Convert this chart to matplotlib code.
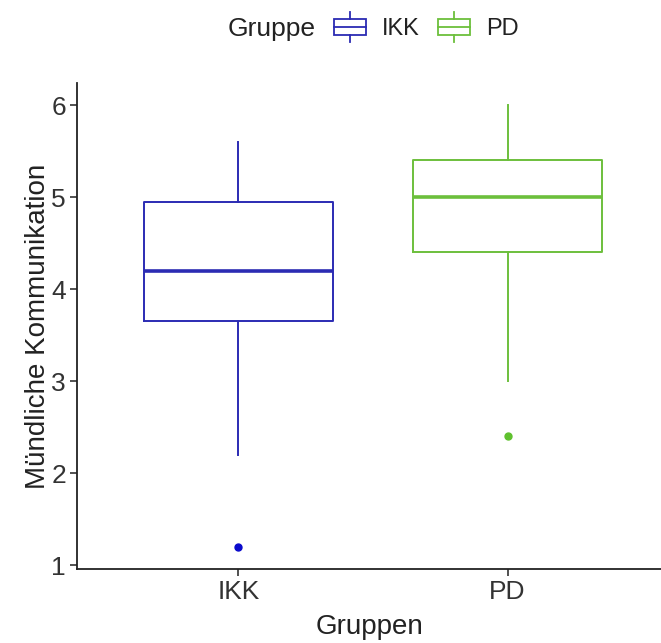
import numpy as np
import matplotlib
matplotlib.use("Agg")
import matplotlib.pyplot as plt
from matplotlib.legend_handler import HandlerBase
from matplotlib.patches import Rectangle
from matplotlib.lines import Line2D
from matplotlib.offsetbox import HPacker

plt.rcParams['font.family'] = ['Liberation Sans', 'DejaVu Sans']

groups = ["IKK", "PD"]
whislo = [2.2, 3.0]
q1 = [3.65, 4.4]
med = [4.2, 5.0]
q3 = [4.95, 5.4]
whishi = [5.6, 6.0]
outliers = [[1.2], [2.4]]
colors = ["#2b2bb3", "#6cbf3c"]
flier_colors = ["#0a0acc", "#5fc12e"]

stats = []
for i, g in enumerate(groups):
    stats.append(dict(label=g, whislo=whislo[i], q1=q1[i], med=med[i],
                      q3=q3[i], whishi=whishi[i], fliers=outliers[i]))

fig = plt.figure(figsize=(6.61, 6.43), dpi=100)
ax = fig.add_axes([0.1165, 0.1151, 0.8835, 0.7558])

for i, s in enumerate(stats):
    c = colors[i]
    ax.bxp([s], positions=[i + 1], widths=0.7, showcaps=False,
           boxprops=dict(color=c, linewidth=1.4),
           whiskerprops=dict(color=c, linewidth=1.4),
           medianprops=dict(color=c, linewidth=2.6),
           flierprops=dict(marker='o', markerfacecolor=flier_colors[i],
                           markeredgecolor=flier_colors[i], markersize=5))

ax.set_xlim(0.4, 2.57)
ax.set_ylim(0.96, 6.24)
ax.set_yticks([1, 2, 3, 4, 5, 6])
ax.set_xticks([1, 2])
ax.set_xticklabels(groups)
ax.spines['top'].set_visible(False)
ax.spines['right'].set_visible(False)
for sp in ['left', 'bottom']:
    ax.spines[sp].set_linewidth(1.3)
    ax.spines[sp].set_color('#222222')
ax.tick_params(axis='both', labelsize=19, length=5, width=1.2,
               color='#333333', labelcolor='#333333', pad=3)
ax.set_xlabel("Gruppen", fontsize=20, color='#222222', labelpad=7)
ax.set_ylabel("Mündliche Kommunikation", fontsize=20, color='#222222', labelpad=0)


class BoxHandler(HandlerBase):
    def __init__(self, color):
        super().__init__()
        self.color = color

    def create_artists(self, legend, orig_handle, xdescent, ydescent,
                       width, height, fontsize, trans):
        c = self.color
        bw = width
        x0 = -xdescent
        y0 = -ydescent
        bh = height
        rect = Rectangle((x0, y0), bw, bh, facecolor='none', edgecolor=c,
                         linewidth=1.3, transform=trans)
        midl = Line2D([x0, x0 + bw], [y0 + bh / 2] * 2, color=c,
                      linewidth=1.3, transform=trans)
        cx = x0 + bw / 2
        top = Line2D([cx, cx], [y0 + bh, y0 + bh + height * 0.45], color=c,
                     linewidth=1.3, transform=trans)
        bot = Line2D([cx, cx], [y0, y0 - height * 0.45], color=c,
                     linewidth=1.3, transform=trans)
        return [rect, midl, top, bot]


handles = [Line2D([], [], color=c) for c in colors]
leg = fig.legend(handles, groups, loc='center', bbox_to_anchor=(0.565, 0.955),
                 ncol=2, frameon=False, fontsize=17, title="Gruppe",
                 title_fontsize=19, handlelength=1.36, handleheight=0.65,
                 columnspacing=0.76, handletextpad=0.68,
                 handler_map={handles[0]: BoxHandler(colors[0]),
                              handles[1]: BoxHandler(colors[1])})
# title to the left of the entries, as ggplot does
title_box = leg._legend_title_box
entries = leg._legend_handle_box
leg._legend_box._children = [HPacker(pad=0, sep=13, children=[title_box, entries],
                                     align="center")]
for t in leg.get_texts():
    t.set_color('#222222')
leg.get_title().set_color('#222222')

fig.savefig("out.png", dpi=100)
